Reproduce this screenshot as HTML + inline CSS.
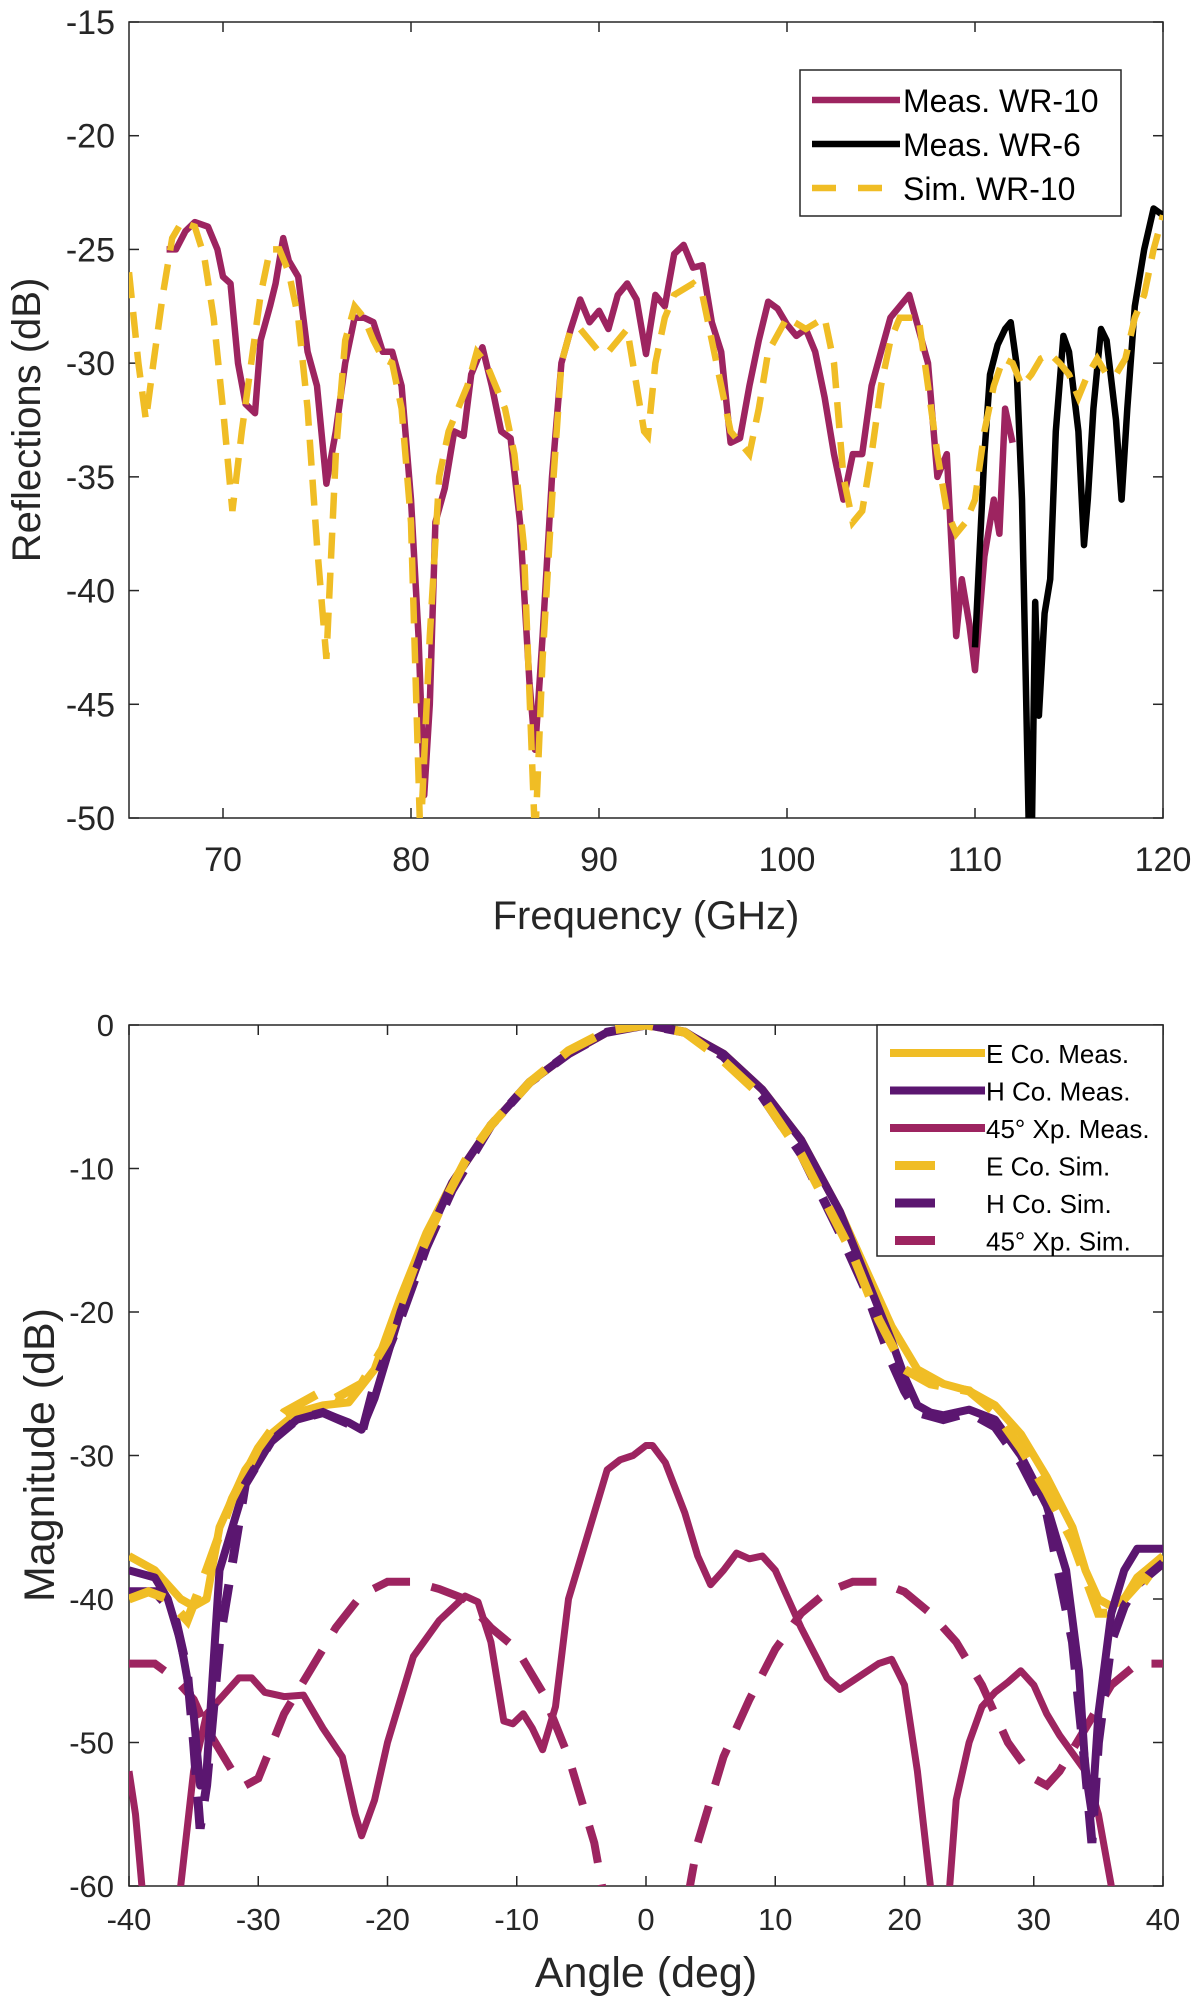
<!DOCTYPE html>
<html><head><meta charset="utf-8"><style>
html,body{margin:0;padding:0;background:#fff;}
svg{display:block;font-family:"Liberation Sans",Arial,sans-serif;}
</style></head><body>
<svg id="fig" width="1200" height="1999" viewBox="0 0 1200 1999" xmlns="http://www.w3.org/2000/svg">
<defs>
<clipPath id="c1"><rect x="129" y="22" width="1034" height="796"/></clipPath>
<clipPath id="c2"><rect x="129" y="1025" width="1034" height="861"/></clipPath>
</defs>
<g id="top"></g>
<g id="bot"></g>
</svg>
<script>
// ---------- Top chart data ----------
const wr10F=[67,67.5,68,68.5,69.2,69.7,70,70.4,70.8,71.2,71.7,72,72.5,72.8,73.2,73.5,74,74.5,75,75.5,76,76.5,77,77.5,78,78.5,79,79.5,80,80.4,80.7,81,81.3,81.8,82.3,82.8,83.2,83.8,84.3,84.8,85.3,85.8,86.3,86.6,87,87.5,88,88.5,89,89.5,90,90.5,91,91.5,92,92.5,93,93.5,94,94.5,95,95.5,96,96.5,97,97.5,98,98.5,99,99.5,100,100.5,101,101.5,102,102.5,103,103.5,104,104.5,105,105.5,106,106.5,107,107.5,108,108.5,109,109.3,109.7,110,110.5,111,111.3,111.6,112];
const wr10V=[-25,-25,-24.2,-23.8,-24,-25,-26.2,-26.5,-30,-31.8,-32.2,-29,-27.5,-26.5,-24.5,-25.5,-26.2,-29.5,-31,-35.3,-33,-30,-28,-28,-28.2,-29.5,-29.5,-31,-36,-42,-49,-45,-37,-35.5,-33,-33.2,-30.5,-29.3,-31,-33,-33.3,-37,-44,-47,-42,-35,-30,-28.5,-27.2,-28.2,-27.7,-28.5,-27,-26.5,-27.2,-29.6,-27,-27.5,-25.2,-24.8,-25.8,-25.7,-28.2,-29.5,-33.5,-33.3,-31,-29,-27.3,-27.6,-28.3,-28.8,-28.5,-29.5,-31.5,-34,-36,-34,-34,-31,-29.5,-28,-27.5,-27,-28.5,-30,-35,-34,-42,-39.5,-41.5,-43.5,-38.5,-36,-37.5,-32,-33.5];
const wr6F=[110,110.2,110.5,110.8,111.2,111.6,111.9,112.2,112.5,112.7,112.9,113,113.2,113.4,113.7,114,114.3,114.7,115,115.5,115.8,116,116.3,116.7,117,117.5,117.8,118.1,118.5,119,119.5,120];
const wr6V=[-42.5,-39,-34,-30.5,-29.2,-28.5,-28.2,-30,-36,-44,-52,-52,-40.5,-45.5,-41,-39.5,-33,-28.8,-29.5,-33,-38,-36,-32,-28.5,-29,-32.5,-36,-32,-27.5,-25,-23.2,-23.5];
const simF=[65,65.5,65.9,66.3,66.8,67.3,67.8,68.5,69,69.5,70,70.5,71,71.5,72,72.5,73,73.5,74,74.5,75,75.5,76,76.5,77,77.5,78,78.5,79,79.5,80,80.5,81,81.5,82,82.5,83,83.5,84,84.5,85,85.5,86,86.6,87,87.5,88,88.5,89,90,90.5,91,91.5,92,92.4,92.6,93,93.5,94,95,95.5,96,96.5,97,97.5,98,98.5,99,100,101,102,102.5,103,103.5,104,104.5,105,105.5,106,106.5,107,107.5,108,108.5,109,109.5,110,110.5,111,111.5,112,112.5,113,113.5,114,114.5,115,115.5,116,116.5,117,117.5,118,118.5,119,119.5,120];
const simV=[-26,-30,-32.5,-30,-27,-24.5,-23.8,-24,-25.3,-28,-32,-36.5,-33,-30,-27,-25,-25,-26,-28,-32,-38,-43,-34,-29,-27.5,-28,-29,-29.8,-30,-32,-37,-51,-42,-35,-33,-32,-31,-29.5,-30,-31,-32,-34,-38,-51,-43,-36,-30,-28.5,-28.5,-29.5,-29.5,-29,-28.5,-31,-33,-33.2,-30,-28,-27,-26.5,-27,-29,-31,-33,-33.5,-34,-32,-29.5,-28,-28.5,-28,-30,-35,-37,-36.5,-34,-31,-29,-28,-28,-28,-31,-34,-36.5,-37.5,-37,-36,-33,-31,-29.8,-30,-31,-30.5,-29.8,-29.6,-30,-30.5,-31.5,-30.5,-29.8,-30.5,-30.5,-29.8,-28,-27,-25,-23.5];
const topXTicks=[70,80,90,100,110,120];
const topYTicks=[-15,-20,-25,-30,-35,-40,-45,-50];
const topLegend=["Meas. WR-10","Meas. WR-6","Sim. WR-10"];

// ---------- Bottom chart data ----------
const eMeasA=[-40,-38,-36,-35,-34,-33,-31,-29,-27,-25,-23,-21,-19,-17,-15,-12,-9,-6,-3,0,3,6,9,12,15,17,19,21,23,25,27,29,31,33,34,35,36,37,38,40];
const eMeasV=[-37,-38,-40,-40.5,-40,-35,-31,-28.5,-27,-26.5,-26.3,-24,-19,-14.5,-11,-7,-4,-2,-0.5,0,-0.5,-2,-4.5,-8,-13,-17,-21,-24,-25,-25.5,-26.5,-28.5,-31.5,-35,-38,-40,-40.5,-40,-38.5,-37];
const hMeasA=[-40,-38,-37,-36,-35,-34.5,-34,-33.5,-33,-31,-29,-27,-25,-23,-22,-21,-19,-17,-15,-12,-9,-6,-3,0,3,6,9,12,15,17,19,20,21,22,23,25,27,29,31,32.5,33.5,34,34.5,35,36,37,38,40];
const hMeasV=[-38,-38.5,-40,-43,-48,-53,-52,-45,-38,-32,-29,-27.5,-27,-27.7,-28.2,-26,-20,-15,-11,-7,-4,-2,-0.5,0,-0.5,-2,-4.5,-8,-13,-17.5,-22,-24.5,-26.5,-27,-27.2,-26.8,-27.5,-30,-33.5,-38,-45,-52,-55,-48,-41,-38,-36.5,-36.5];
const eSimA=[-40,-38.5,-37,-35.5,-34,-32,-30,-28,-25,-24,-22,-20,-18,-16,-14,-12,-9,-6,-3,0,3,6,9,12,14,16,18,20,22,25,27,29,31,33,35,36,37,38.5,40];
const eSimV=[-40,-39.5,-40,-41.5,-38,-33,-29.5,-27,-25.5,-26,-25,-22,-17,-13,-9.5,-7,-4,-1.8,-0.4,0,-0.5,-2.5,-5,-9,-12.5,-16,-20.5,-24,-25,-25.5,-27,-29.5,-32.5,-36,-41,-41,-40,-38.5,-39.5];
const hSimA=[-40,-38,-36.5,-35.5,-35,-34.5,-34,-33,-31,-29,-27,-25,-23,-22,-21,-19,-17,-15,-12,-9,-6,-3,0,3,6,9,12,15,17,19,20,21,23,25,27,29,31,33,34,34.5,35,36,37,38,40];
const hSimV=[-39.5,-39.5,-41,-45,-50,-56,-53,-43,-32,-29,-27.5,-27,-27.8,-28.5,-25,-20.5,-15.5,-11.5,-7,-4,-2,-0.5,0,-0.5,-2.2,-5,-9,-14.5,-18.5,-23.5,-25.5,-27,-27.5,-27,-28,-30.5,-34,-43,-52,-57,-50,-43,-40.5,-39,-37.5];
const xMeasA=[-40,-39.5,-39,-38.5,-36.5,-36,-35,-34,-33,-31.5,-30.5,-29.5,-28,-26.5,-25,-23.5,-22.5,-22,-21,-20,-18,-16,-14,-13,-12,-11,-10.3,-9.5,-8.8,-8,-7.5,-7,-6,-5,-4,-3,-2,-1,0,0.5,1.5,3,4,5,6,7,8,9,10,11,12,14,15,16,18,19,20,21,22,22.5,23,23.5,24,25,26,27,28,29,30,31,32,34,35,36,37];
const xMeasV=[-52,-55,-60,-65,-65,-60,-52,-48,-47,-45.5,-45.5,-46.5,-46.8,-46.7,-49,-51,-55,-56.5,-54,-50,-44,-41.5,-39.8,-40.2,-43,-48.5,-48.7,-48,-49,-50.5,-49,-47.5,-40,-37,-34,-31,-30.3,-30,-29.3,-29.3,-30.5,-34,-37,-39,-38,-36.8,-37.2,-37,-38,-40,-42,-45.5,-46.3,-45.7,-44.5,-44.2,-46,-52,-60,-65,-65,-60,-54,-50,-47.5,-46.5,-45.8,-45,-46,-48,-49.5,-52,-55,-60,-65];
const xSimA=[-40,-38,-36.5,-35,-34,-32,-31,-30,-28,-26,-24,-22,-20,-18,-16,-14,-12,-10,-8,-6,-4,-3,-2,2,3,4,6,8,10,12,14,16,18,20,22,24,26,28,30,31,32,34,35,36,38,40];
const xSimV=[-44.5,-44.5,-45.5,-47,-49,-52,-53,-52.5,-48,-45,-42,-39.7,-38.8,-38.8,-39.3,-40,-42,-43.5,-46.5,-51,-57,-62,-67,-70,-62,-57,-51,-47,-43.5,-41,-39.5,-38.8,-38.8,-39.5,-41,-43,-46,-50,-52.5,-53,-52,-49,-47.5,-46,-44.5,-44.5];
const botXTicks=[-40,-30,-20,-10,0,10,20,30,40];
const botYTicks=[0,-10,-20,-30,-40,-50,-60];
const botLegend=["E Co. Meas.","H Co. Meas.","45° Xp. Meas.","E Co. Sim.","H Co. Sim.","45° Xp. Sim."];

const NS="http://www.w3.org/2000/svg";
const C_MAG="#9d2460", C_YEL="#f0bd25", C_PUR="#5b1670", TXT="#262626";
function mk(tag,parent,attrs){const e=document.createElementNS(NS,tag);for(const k in attrs)e.setAttribute(k,attrs[k]);parent.appendChild(e);return e;}
function lin(d0,d1,r0,r1){return v=>r0+(v-d0)*(r1-r0)/(d1-d0);}
function pathD(xs,ys,sx,sy){return xs.map((x,i)=>(i?"L":"M")+sx(x).toFixed(1)+","+sy(ys[i]).toFixed(1)).join("");}

// Top chart
const T=document.getElementById("top");
const tx=lin(65,120,129,1163), ty=lin(-15,-50,22,818);
let r=mk("rect",T,{x:129,y:22,width:1034,height:796,fill:"#fff",stroke:TXT,"stroke-width":1.5});


topXTicks.forEach(v=>{
  mk("line",T,{x1:tx(v),x2:tx(v),y1:818,y2:808,stroke:TXT,"stroke-width":1.5});
  mk("line",T,{x1:tx(v),x2:tx(v),y1:22,y2:32,stroke:TXT,"stroke-width":1.5});
  const t=mk("text",T,{x:tx(v),y:871,"text-anchor":"middle","font-size":34,fill:TXT});t.textContent=v;
  
  
});
topYTicks.forEach(v=>{
  mk("line",T,{x1:129,x2:139,y1:ty(v),y2:ty(v),stroke:TXT,"stroke-width":1.5});
  mk("line",T,{x1:1163,x2:1153,y1:ty(v),y2:ty(v),stroke:TXT,"stroke-width":1.5});
  const t=mk("text",T,{x:115,y:ty(v)+12,"text-anchor":"end","font-size":34,fill:TXT});t.textContent=v;
  
  
});
let t1=mk("text",T,{x:646,y:929,"text-anchor":"middle","font-size":40,fill:TXT});t1.textContent="Frequency (GHz)";


let t2=mk("text",T,{x:40,y:420,"text-anchor":"middle","font-size":40,fill:TXT,transform:"rotate(-90 40 420)"});t2.textContent="Reflections (dB)";


const tg=mk("g",T,{"clip-path":"url(#c1)"});
let p=mk("path",tg,{d:pathD(wr10F,wr10V,tx,ty),fill:"none",stroke:C_MAG,"stroke-width":6.5,"stroke-linejoin":"round"});


p=mk("path",tg,{d:pathD(wr6F,wr6V,tx,ty),fill:"none",stroke:"#000","stroke-width":6.5,"stroke-linejoin":"round"});


p=mk("path",tg,{d:pathD(simF,simV,tx,ty),fill:"none",stroke:C_YEL,"stroke-width":6.5,"stroke-dasharray":"26 14"});


// legend
const tl=mk("g",T,{});


mk("rect",tl,{x:800,y:70,width:321,height:146,fill:"#fff",stroke:TXT,"stroke-width":1.5});
const tcol=[C_MAG,"#000",C_YEL];
topLegend.forEach((s,i)=>{
  const y=100+i*44;
  const ln=mk("line",tl,{x1:812,x2:900,y1:y,y2:y,stroke:tcol[i],"stroke-width":6.5,"stroke-dasharray":i==2?"24 22":"none"});
  
  
  const t=mk("text",tl,{x:903,y:y+12,"font-size":32,fill:"#000"});t.textContent=s;
  
  
});

// Bottom chart
const B=document.getElementById("bot");
const bx=lin(-40,40,129,1163), by=lin(0,-60,1025,1886);
r=mk("rect",B,{x:129,y:1025,width:1034,height:861,fill:"#fff",stroke:TXT,"stroke-width":1.5});


botXTicks.forEach(v=>{
  mk("line",B,{x1:bx(v),x2:bx(v),y1:1886,y2:1876,stroke:TXT,"stroke-width":1.5});
  mk("line",B,{x1:bx(v),x2:bx(v),y1:1025,y2:1035,stroke:TXT,"stroke-width":1.5});
  const t=mk("text",B,{x:bx(v),y:1930,"text-anchor":"middle","font-size":31,fill:TXT});t.textContent=v;
  
  
});
botYTicks.forEach(v=>{
  mk("line",B,{x1:129,x2:139,y1:by(v),y2:by(v),stroke:TXT,"stroke-width":1.5});
  mk("line",B,{x1:1163,x2:1153,y1:by(v),y2:by(v),stroke:TXT,"stroke-width":1.5});
  const t=mk("text",B,{x:114,y:by(v)+11,"text-anchor":"end","font-size":31,fill:TXT});t.textContent=v;
  
  
});
t1=mk("text",B,{x:646,y:1987,"text-anchor":"middle","font-size":43,fill:TXT});t1.textContent="Angle (deg)";


t2=mk("text",B,{x:54,y:1455,"text-anchor":"middle","font-size":43,fill:TXT,transform:"rotate(-90 54 1455)"});t2.textContent="Magnitude (dB)";


const bg=mk("g",B,{"clip-path":"url(#c2)"});
const DA="38 22";
p=mk("path",bg,{d:pathD(xSimA,xSimV,bx,by),fill:"none",stroke:C_MAG,"stroke-width":8,"stroke-dasharray":DA});


p=mk("path",bg,{d:pathD(xMeasA,xMeasV,bx,by),fill:"none",stroke:C_MAG,"stroke-width":7,"stroke-linejoin":"round"});


p=mk("path",bg,{d:pathD(eMeasA,eMeasV,bx,by),fill:"none",stroke:C_YEL,"stroke-width":8,"stroke-linejoin":"round"});


p=mk("path",bg,{d:pathD(hMeasA,hMeasV,bx,by),fill:"none",stroke:C_PUR,"stroke-width":8,"stroke-linejoin":"round"});


p=mk("path",bg,{d:pathD(hSimA,hSimV,bx,by),fill:"none",stroke:C_PUR,"stroke-width":9,"stroke-dasharray":DA});


p=mk("path",bg,{d:pathD(eSimA,eSimV,bx,by),fill:"none",stroke:C_YEL,"stroke-width":9,"stroke-dasharray":DA});


const bl=mk("g",B,{});


mk("rect",bl,{x:877,y:1025,width:286,height:231,fill:"#fff",stroke:TXT,"stroke-width":1.5});
const bcol=[C_YEL,C_PUR,C_MAG,C_YEL,C_PUR,C_MAG];
botLegend.forEach((s,i)=>{
  const y=1053+i*37.5;
  const dashed=i>=3;
  const ln=mk("line",bl,{x1:dashed?895:890,x2:dashed?935:985,y1:y,y2:y,stroke:bcol[i],"stroke-width":dashed?9:8});
  
  
  const t=mk("text",bl,{x:986,y:y+10,"font-size":26,fill:"#000"});t.textContent=s;
  
  
});
</script>
</body></html>
